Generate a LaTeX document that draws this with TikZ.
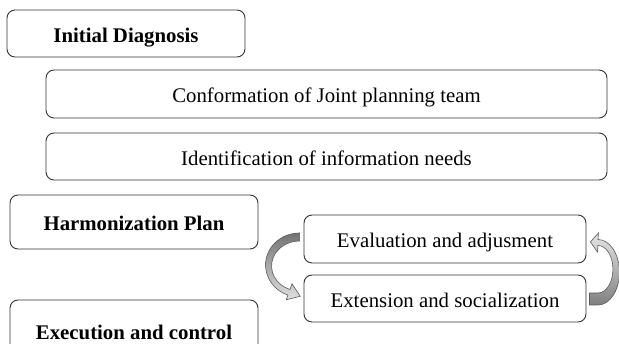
\documentclass[tikz,border=0pt]{standalone}
\usepackage{fontspec}
\setmainfont{Liberation Serif}
\usetikzlibrary{calc}
\begin{document}
\begin{tikzpicture}[x=1pt,y=1pt,
  stagebox/.style={draw=black!80,line width=0.9pt,rounded corners=8pt,inner sep=0pt,
    text height=18pt,text depth=0pt,font=\fontsize{20.8}{25}\selectfont},
  headbox/.style={stagebox,font=\fontsize{20.8}{25}\selectfont\bfseries},
  cyclearrow/.style={draw=black!65,line width=0.6pt}]
\useasboundingbox (0,0) rectangle (619,343);
\clip (0,0) rectangle (619,343);
\node[headbox,minimum width=238pt,minimum height=47pt] (diag) at (126,309.5) {Initial Diagnosis};
\node[stagebox,minimum width=561pt,minimum height=48pt] (conf) at (326.5,249) {Conformation of Joint planning team};
\node[stagebox,minimum width=561pt,minimum height=47pt] (ident) at (326.5,186.5) {Identification of information needs};
\node[headbox,minimum width=248pt,minimum height=54pt] (harm) at (134,121) {Harmonization Plan};
\node[headbox,minimum width=248pt,minimum height=60pt] (exec) at (134,13) {Execution and control};
\node[stagebox,minimum width=282pt,minimum height=48pt] (eval) at (445,104) {Evaluation and adjusment};
\node[stagebox,minimum width=282pt,minimum height=47pt] (ext) at (445,44.5) {Extension and socialization};
\coordinate (cl) at ($(eval.west)+(-4,-26)$);
\coordinate (cli) at ($(cl)+(0,-1)$);
\path[cyclearrow,top color=black!55,bottom color=black!12]
  ($(cl)+(90:34 and 32)$) arc[start angle=90,end angle=250,x radius=34,y radius=32]
  -- ($(cl)+(-13.3,-34.8)$) -- ($(cl)+(0.7,-31.3)$) -- ($(cl)+(-7.6,-18.8)$)
  -- ($(cli)+(250:28 and 25)$) arc[start angle=250,end angle=90,x radius=28,y radius=25] -- cycle;
\coordinate (cr) at ($(ext.east)+(11.5,26.25)$);
\coordinate (cri) at ($(ext.east)+(11.5,29.25)$);
\path[cyclearrow,top color=black!10,bottom color=black!50]
  ($(ext.east)+(3,-6.5)$) -- ($(cr)+(-90:21.5 and 32.75)$)
  arc[start angle=-90,end angle=90,x radius=21.5,y radius=32.75]
  -- ($(cr)+(0.5,39.25)$) -- ($(cr)+(-7.5,30.25)$) -- ($(cr)+(-0.5,20.25)$)
  -- ($(cri)+(90:15 and 23.75)$) arc[start angle=90,end angle=-90,x radius=15,y radius=23.75]
  -- ($(ext.east)+(3,5.5)$) -- cycle;
\end{tikzpicture}
\end{document}
